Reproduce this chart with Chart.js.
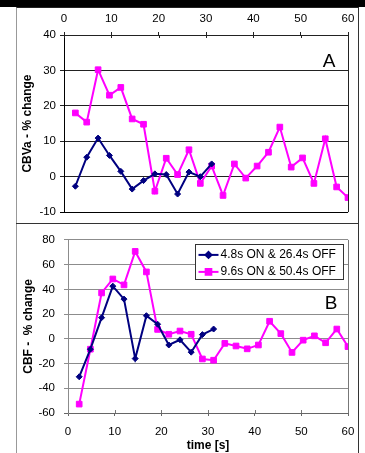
<!DOCTYPE html>
<html>
<head>
<meta charset="utf-8">
<script src="https://cdn.jsdelivr.net/npm/chart.js@4.4.1/dist/chart.umd.min.js"></script>
<style>
  html, body { margin: 0; padding: 0; background: #fff; }
  #wrap { position: relative; width: 365px; height: 453px; overflow: hidden; }
  #band { position: absolute; left: 0; top: 0; width: 365px; height: 7px; background: #000; }
  #frame { position: absolute; left: 16px; top: 7px; width: 341px; height: 470px; border-left: 1px solid #999; border-top: 1px solid #222; border-right: 1px solid #333; pointer-events: none; }
  #divider { position: absolute; left: 16px; top: 223px; width: 342px; height: 1px; background: #333; }
  canvas { position: absolute; left: 0; }
  #cA { top: 0; }
  #cB { top: 224px; }
</style>
</head>
<body>
<div id="wrap">
  <canvas id="cA" width="365" height="223"></canvas>
  <canvas id="cB" width="365" height="229"></canvas>
  <div id="band"></div>
  <div id="frame"></div>
  <div id="divider"></div>
</div>
<script>
// time points [s]
const timesShort = [2.4, 4.8, 7.2, 9.6, 12.0, 14.4, 16.8, 19.2, 21.6, 24.0, 26.4, 28.8, 31.2];
const timesLong = [2.4, 4.8, 7.2, 9.6, 12.0, 14.4, 16.8, 19.2, 21.6, 24.0, 26.4, 28.8, 31.2,
  33.6, 36.0, 38.4, 40.8, 43.2, 45.6, 48.0, 50.4, 52.8, 55.2, 57.6, 60.0];

const seriesLabels = ['4.8s ON & 26.4s OFF', '9.6s ON & 50.4s OFF'];

// panel A: CBVa % change
const cbvShort = [-2.7, 5.5, 10.9, 6.0, 1.5, -3.5, -1.1, 0.8, 0.6, -4.9, 1.3, 0.0, 3.6];
const cbvLong = [18.0, 15.4, 30.2, 23.0, 25.2, 16.3, 14.8, -4.1, 5.2, 0.6, 7.6, -1.9, 3.0,
  -5.3, 3.6, -0.4, 3.0, 6.9, 14.0, 2.7, 5.3, -1.9, 10.7, -2.9, -5.9];

// panel B: CBF % change
const cbfShort = [-30.7, -8.4, 17.1, 42.6, 32.1, -16.0, 18.7, 11.8, -5.0, -0.8, -10.8, 3.4, 7.9];
const cbfLong = [-52.8, -8.4, 37.1, 48.4, 43.6, 70.7, 54.1, 7.6, 3.7, 6.3, 3.7, -16.3, -17.3,
  -3.7, -5.8, -8.1, -5.0, 14.2, 4.2, -11.0, -1.1, 2.4, -3.2, 7.9, -6.3];

const xTicks = [0, 10, 20, 30, 40, 50, 60];

const NAVY = '#000080';
const MAGENTA = '#ff00ff';
const FONT = "'Liberation Sans', Arial, sans-serif";

const toPoints = (xs, ys) => xs.map((x, i) => ({ x, y: ys[i] }));

function makeSets(shortVals, longVals) {
  return [
    { label: seriesLabels[0], data: toPoints(timesShort, shortVals), borderColor: NAVY, backgroundColor: NAVY,
      borderWidth: 2, pointStyle: 'rectRot', pointRadius: 3, pointBorderWidth: 1, tension: 0 },
    { label: seriesLabels[1], data: toPoints(timesLong, longVals), borderColor: MAGENTA, backgroundColor: MAGENTA,
      borderWidth: 2, pointStyle: 'rect', pointRadius: 4, pointBorderWidth: 1, tension: 0 }
  ];
}

// panel letter, right border of the plot area, and ticks crossing into the plot
const panelDeco = {
  id: 'panelDeco',
  afterDraw(chart, args, opts) {
    const { ctx, chartArea, scales } = chart;
    ctx.save();
    ctx.strokeStyle = opts.edge;
    ctx.lineWidth = 1;
    ctx.beginPath();
    const rx = Math.round(chartArea.right) + 0.5;
    ctx.moveTo(rx, chartArea.top);
    ctx.lineTo(rx, chartArea.bottom);
    // inner half of the crossing x tick marks
    const axisY = opts.xTop ? chartArea.top : chartArea.bottom;
    const dir = opts.xTop ? 1 : -1;
    xTicks.forEach((v) => {
      const px = Math.round(scales.x.getPixelForValue(v)) + 0.5;
      ctx.moveTo(px, axisY);
      ctx.lineTo(px, axisY + dir * 3);
    });
    ctx.stroke();
    ctx.fillStyle = '#000';
    ctx.font = `19px ${FONT}`;
    ctx.textAlign = 'center';
    ctx.textBaseline = 'middle';
    ctx.fillText(opts.letter, chartArea.right + opts.dx, chartArea.top + opts.dy);
    ctx.restore();
  }
};

// boxed legend drawn inside panel B
const boxLegend = {
  id: 'boxLegend',
  afterDraw(chart, args, opts) {
    if (!opts.show) return;
    const { ctx, chartArea } = chart;
    const x0 = Math.round(chartArea.left + 127) + 0.5;
    const y0 = Math.round(chartArea.top + 4) + 0.5;
    ctx.save();
    ctx.fillStyle = '#fff';
    ctx.fillRect(x0, y0, 148, 35);
    ctx.strokeStyle = '#333';
    ctx.lineWidth = 1;
    ctx.strokeRect(x0, y0, 148, 35);
    ctx.font = `12px ${FONT}`;
    ctx.textBaseline = 'middle';
    chart.data.datasets.forEach((ds, i) => {
      const y = chartArea.top + 15 + i * 17;
      ctx.strokeStyle = ds.borderColor;
      ctx.lineWidth = 2;
      ctx.beginPath();
      ctx.moveTo(x0 + 3, y);
      ctx.lineTo(x0 + 23, y);
      ctx.stroke();
      Chart.helpers.drawPoint(ctx, { pointStyle: ds.pointStyle, radius: ds.pointRadius, borderWidth: 1 }, x0 + 13, y);
      ctx.fillStyle = ds.borderColor;
      ctx.fill();
      ctx.fillStyle = '#000';
      ctx.fillText(ds.label, x0 + 25, y);
    });
    ctx.restore();
  }
};

const tickFont = { family: FONT, size: 11.5 };
const titleFont = { family: FONT, size: 12, weight: 'bold' };

// panel A
new Chart(document.getElementById('cA'), {
  type: 'line',
  data: { datasets: makeSets(cbvShort, cbvLong) },
  plugins: [panelDeco],
  options: {
    responsive: false,
    animation: false,
    devicePixelRatio: 1,
    layout: { padding: { left: 0, right: 17, top: 0, bottom: 9 } },
    plugins: {
      legend: { display: false },
      tooltip: { enabled: false },
      panelDeco: { letter: 'A', dx: -19, dy: 27, edge: '#222', xTop: true }
    },
    scales: {
      x: {
        type: 'linear', position: 'top', min: 0, max: 60,
        afterBuildTicks: (s) => { s.ticks = xTicks.map((v) => ({ value: v })); },
        afterFit: (s) => { s.height = 35; },
        ticks: { color: '#000', font: tickFont, padding: 6, maxRotation: 0 },
        grid: { drawOnChartArea: false, tickLength: 3, color: '#222' },
        border: { color: '#222' }
      },
      y: {
        min: -10, max: 40,
        afterFit: (s) => { s.width = 64; },
        ticks: { stepSize: 10, color: '#000', font: tickFont, padding: 4 },
        grid: { tickLength: 4, color: (c) => (c.tick && c.tick.value === -10 ? '#000' : '#222') },
        border: { color: '#000' },
        title: { display: true, text: 'CBVa - % change', color: '#000', font: titleFont, padding: { top: 20, bottom: 0 } }
      }
    }
  }
});

// panel B
new Chart(document.getElementById('cB'), {
  type: 'line',
  data: { datasets: makeSets(cbfShort, cbfLong) },
  plugins: [panelDeco, boxLegend],
  options: {
    responsive: false,
    animation: false,
    devicePixelRatio: 1,
    layout: { padding: { left: 0, right: 17, top: 11, bottom: 0 } },
    plugins: {
      legend: { display: false },
      tooltip: { enabled: false },
      panelDeco: { letter: 'B', dx: -17, dy: 64, edge: '#777', xTop: false },
      boxLegend: { show: true }
    },
    scales: {
      x: {
        type: 'linear', position: 'bottom', min: 0, max: 60,
        afterBuildTicks: (s) => { s.ticks = xTicks.map((v) => ({ value: v })); },
        afterFit: (s) => { s.height = 40; },
        ticks: { color: '#000', font: tickFont, padding: 9, maxRotation: 0 },
        grid: { drawOnChartArea: false, tickLength: 3, color: '#666' },
        border: { color: '#666' },
        title: { display: true, text: 'time [s]', color: '#000', font: titleFont, padding: { top: 0, bottom: 0 } }
      },
      y: {
        min: -60, max: 80,
        afterFit: (s) => { s.width = 68; },
        ticks: { stepSize: 20, color: '#000', font: tickFont, padding: 9 },
        grid: { tickLength: 4, color: (c) => (c.tick && c.tick.value === -60 ? '#666' : '#8c8c8c') },
        border: { color: '#8c8c8c' },
        title: { display: true, text: 'CBF -  % change', color: '#000', font: titleFont, padding: { top: 21, bottom: 0 } }
      }
    }
  }
});
</script>
</body>
</html>
